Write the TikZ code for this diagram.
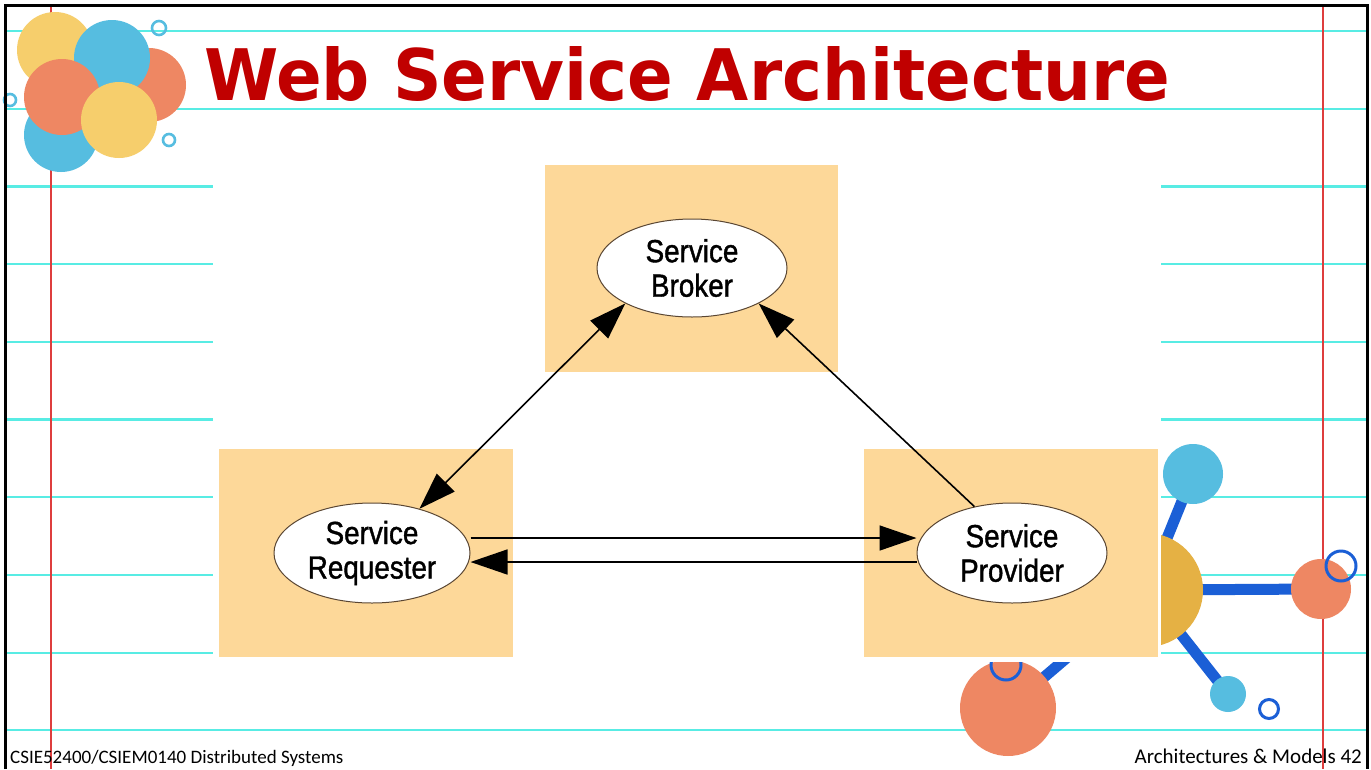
\documentclass[tikz,border=0pt]{standalone}
\usepackage{fontspec}
\usepackage{graphicx}
\usetikzlibrary{arrows.meta,shapes.geometric}

\newfontfamily\labelfont[FakeStretch=0.87,FakeBold=1.2]{Liberation Sans}
\newfontfamily\titlefont{DejaVu Sans}
\newfontfamily\footfont{Carlito}

\definecolor{rulecyan}{RGB}{88,236,228}
\definecolor{marginred}{RGB}{222,62,62}
\definecolor{titlered}{RGB}{192,0,0}
\definecolor{panelbeige}{RGB}{253,216,153}
\definecolor{dotyellow}{RGB}{246,206,108}
\definecolor{dotblue}{RGB}{86,189,224}
\definecolor{dotorange}{RGB}{238,135,99}
\definecolor{gold}{RGB}{229,177,68}
\definecolor{bondblue}{RGB}{27,95,214}
\definecolor{rimbrown}{RGB}{90,70,50}

\tikzset{
  rule/.style={draw=rulecyan, line width=2.2pt},
  margin/.style={draw=marginred, line width=1.5pt},
  panel/.style={fill=panelbeige},
  role/.style={ellipse, draw=rimbrown, line width=1pt, fill=white, inner sep=0pt,
    align=center, font=\labelfont\fontsize{32}{34.5}\selectfont},
  conn/.style={draw=black, line width=1.6pt},
  tip/.tip={Triangle[length=37pt,width=25pt]},
  ring/.style={line width=2.6pt},
  bond/.style={draw=bondblue, line width=11pt},
  foot/.style={inner sep=0pt, font=\footfont\fontsize{19}{21}\selectfont},
  footright/.style={inner sep=0pt, font=\footfont\fontsize{21}{23}\selectfont}
}

\begin{document}
\begin{tikzpicture}[x=1pt,y=-1pt]
\useasboundingbox (0,0) rectangle (1371,769);
\fill[white] (0,0) rectangle (1371,769);

% ruled notebook lines and margins
\foreach \k in {0,...,9}
  \draw[rule] (5,31+77.7*\k) -- (1367,31+77.7*\k);
\draw[margin] (51,5) -- (51,769);
\draw[margin] (1323,5) -- (1323,769);

% cluster of dots, top left
\fill[dotyellow] (55,50) circle (38);
\fill[dotorange] (149,85) circle (37);
\fill[dotblue] (112,58) circle (38);
\fill[dotblue] (61,135) circle (37);
\fill[dotorange] (62,97) circle (38);
\fill[dotyellow] (119,120) circle (38);
\draw[dotblue, ring] (159,28) circle (7);
\draw[dotblue, ring] (10,100) circle (6);
\draw[dotblue, ring] (169,140) circle (6);

% molecule, bottom right
\draw[bond] (1146,590) -- (1193,474);
\draw[bond] (1146,590) -- (1321,589);
\draw[bond] (1146,590) -- (1228,694);
\draw[bond] (1146,590) -- (1008,708);
\fill[gold] (1146,590) circle (57);
\fill[dotblue] (1193,474) circle (30);
\fill[dotorange] (1321,589) circle (30);
\fill[dotblue] (1228,694) circle (18);
\fill[dotorange] (1008,708) circle (48);
\draw[bondblue, ring, line width=3pt] (1341,566) circle (15);
\draw[bondblue, ring, line width=3pt] (1269,709) circle (9.5);
\draw[bondblue, ring, line width=3pt] (1006,665) circle (15);

% diagram panel
\fill[white] (213,150) rectangle (1161,662);
\fill[panel] (545,165) rectangle (838,372);
\fill[panel] (219,449) rectangle (513,657);
\fill[panel] (864,449) rectangle (1158,657);

\node[role, minimum width=190pt, minimum height=98pt] (brok) at (692,268) {Service\\Broker};
\node[role, minimum width=196pt, minimum height=100pt] (req) at (372,553) {Service\\Requester};
\node[role, minimum width=190pt, minimum height=100pt] (prov) at (1012,553) {Service\\Provider};

\draw[conn, {tip}-{tip}] (brok.208) -- (req.43);
\draw[conn, -{tip}] (prov.129) -- (brok.-28);
\draw[conn, -{tip}] ([yshift=15pt]req.east) -- ([yshift=15pt]prov.west);
\draw[conn, -{tip}] ([yshift=-9pt]prov.west) -- ([yshift=-9pt]req.east);

% title and footer
\node[anchor=base west, inner sep=0pt, text=titlered] (title) at (204,100)
  {\resizebox{966pt}{54pt}{\titlefont\bfseries Web Service Architecture}};
\node[foot, anchor=base west] (course) at (10,763) {CSIE52400/CSIEM0140 Distributed Systems};
\node[footright, anchor=base east] (page) at (1362,763) {Architectures \& Models 42};

% frame
\draw[line width=3pt] (5,769) -- (5,5) -- (1367,5) -- (1367,769);
\end{tikzpicture}
\end{document}
